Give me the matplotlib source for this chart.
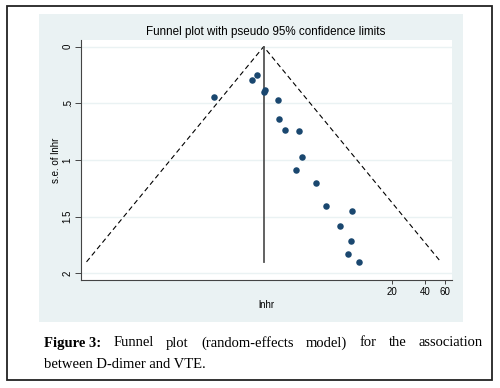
import numpy as np
import matplotlib
matplotlib.use("Agg")
import matplotlib.pyplot as plt
from matplotlib.patches import Rectangle

# ---- data ----
lnhr = [-0.75, 0.044, 0.156, 0.31, 0.30, 0.584, 0.61, 0.73, 1.04, 1.09,
        0.975, 1.40, 1.60, 2.145, 1.89, 2.13, 2.055, 2.29]
se = [0.441, 0.297, 0.250, 0.382, 0.402, 0.473, 0.641, 0.738, 0.744, 0.974,
      1.086, 1.200, 1.409, 1.447, 1.585, 1.712, 1.827, 1.90]
pooled = 0.29
y_ticks = [0, 0.5, 1, 1.5, 2]
y_tick_labels = ["0", ".5", "1", "1.5", "2"]
x_tick_values = [20, 40, 60]

W, H = 500, 388
fig = plt.figure(figsize=(W / 100, H / 100), dpi=100)
fig.patch.set_facecolor("white")

def fx(px):
    return px / W

def fy(py):
    return 1 - py / H

# outer border
fig.add_artist(Rectangle((fx(7), fy(380)), fx(485), (380 - 6) / H,
                         transform=fig.transFigure, fill=False,
                         edgecolor="#222222", linewidth=1.3, zorder=0))
# graph region
fig.add_artist(Rectangle((fx(39), fy(322)), fx(424), (322 - 14) / H,
                         transform=fig.transFigure, facecolor="#eaf2f3",
                         edgecolor="none", zorder=0))

ax = fig.add_axes([fx(81), fy(280), fx(452 - 81), (280 - 40) / H])
ax.set_facecolor("white")

sefmax = max(se)
# funnel lines
ax.plot([pooled - 1.96 * sefmax, pooled, pooled + 1.96 * sefmax],
        [sefmax, 0, sefmax], color="black", linestyle=(0, (4.5, 3)),
        linewidth=0.8, zorder=3)
ax.plot([pooled, pooled], [0, sefmax], color="#555555", linewidth=1.3, zorder=3)
ax.scatter(lnhr, se, s=22, color="#1a476f", zorder=4, linewidths=0)

ax.set_ylim(2.06, -0.059)
ax.set_xlim(-3.55, 4.25)

for yv in y_ticks:
    ax.axhline(yv, color="#eaf2f3", linewidth=1.0, zorder=1)

ax.set_yticks(y_ticks)
ax.set_yticklabels(y_tick_labels, rotation=90, va="center",
                   fontsize=7, family="Liberation Sans")
ax.set_xticks(np.log(x_tick_values))
ax.set_xticklabels([str(v) for v in x_tick_values], fontsize=7,
                   family="Liberation Sans")
ax.tick_params(axis="y", length=4, width=0.7, color="#444444", pad=2)
ax.tick_params(axis="x", length=3, width=0.7, color="#444444", pad=2)

for s in ["top", "right"]:
    ax.spines[s].set_visible(False)
for s in ["left", "bottom"]:
    ax.spines[s].set_color("#444444")
    ax.spines[s].set_linewidth(0.8)

ax.set_ylabel("s.e. of lnhr", fontsize=7, family="Liberation Sans", labelpad=1)
ax.set_xlabel("lnhr", fontsize=7, family="Liberation Sans", labelpad=2)

fig.text(fx(266), fy(32), "Funnel plot with pseudo 95% confidence limits",
         ha="center", va="center", fontsize=8.4, family="Liberation Sans")

# caption, justified line 1
cap_font = dict(family="Liberation Serif", fontsize=10.5)
words1 = [("Figure 3:", "bold"), ("Funnel", "normal"), ("plot", "normal"),
          ("(random-effects", "normal"), ("model)", "normal"), ("for", "normal"),
          ("the", "normal"), ("association", "normal")]
left, right = 44, 483
y1, y2 = 343, 365
renderer = fig.canvas.get_renderer()
texts = []
for w, wt in words1:
    t = fig.text(0, fy(y1), w, ha="left", va="center", fontweight=wt, **cap_font)
    texts.append(t)
widths = [t.get_window_extent(renderer).width for t in texts]
gap = (right - left - sum(widths)) / (len(widths) - 1)
x = left
for t, wd in zip(texts, widths):
    t.set_x(fx(x))
    x += wd + gap
fig.text(fx(left), fy(y2), "between D-dimer and VTE.", ha="left", va="center",
         **cap_font)

fig.savefig("out.png", dpi=100)
